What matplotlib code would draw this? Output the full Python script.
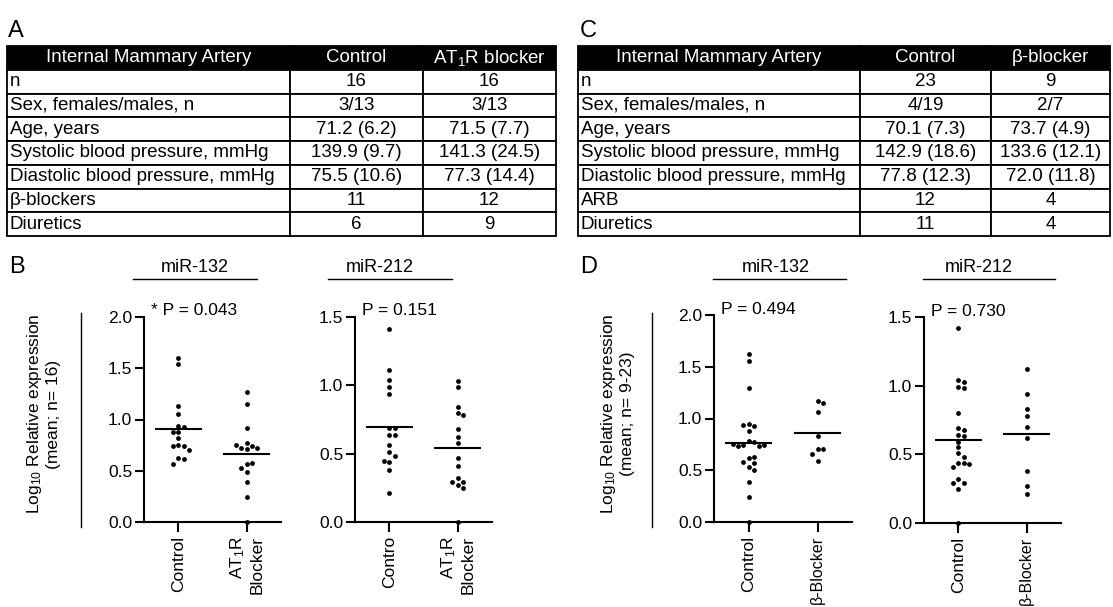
import matplotlib
matplotlib.use('Agg')
import matplotlib.pyplot as plt
from matplotlib.lines import Line2D

plt.rcParams['font.family'] = ['Liberation Sans', 'DejaVu Sans']
plt.rcParams['mathtext.default'] = 'regular'

# ---- tables ----
header_a = ['Internal Mammary Artery', 'Control', 'AT$_1$R blocker']
rows_a = [['n', '16', '16'],
          ['Sex, females/males, n', '3/13', '3/13'],
          ['Age, years', '71.2 (6.2)', '71.5 (7.7)'],
          ['Systolic blood pressure, mmHg', '139.9 (9.7)', '141.3 (24.5)'],
          ['Diastolic blood pressure, mmHg', '75.5 (10.6)', '77.3 (14.4)'],
          ['β-blockers', '11', '12'],
          ['Diuretics', '6', '9']]

header_c = ['Internal Mammary Artery', 'Control', 'β-blocker']
rows_c = [['n', '23', '9'],
          ['Sex, females/males, n', '4/19', '2/7'],
          ['Age, years', '70.1 (7.3)', '73.7 (4.9)'],
          ['Systolic blood pressure, mmHg', '142.9 (18.6)', '133.6 (12.1)'],
          ['Diastolic blood pressure, mmHg', '77.8 (12.3)', '72.0 (11.8)'],
          ['ARB', '12', '4'],
          ['Diuretics', '11', '4']]

# ---- scatter data (log10 relative expression) ----
b132_control = [1.60, 1.54, 1.13, 1.05, 0.94, 0.93, 0.88, 0.88, 0.82, 0.75,
                0.74, 0.74, 0.70, 0.62, 0.61, 0.57]
b132_at1r = [1.27, 1.15, 0.92, 0.77, 0.74, 0.72, 0.71, 0.72, 0.75, 0.57,
             0.58, 0.53, 0.49, 0.39, 0.24, 0.0]
b212_control = [1.41, 1.11, 1.04, 0.99, 0.94, 0.69, 0.69, 0.64, 0.64, 0.56,
                0.51, 0.48, 0.44, 0.45, 0.38, 0.21]
b212_at1r = [1.03, 0.99, 0.84, 0.80, 0.78, 0.68, 0.62, 0.58, 0.47, 0.41,
             0.32, 0.29, 0.27, 0.25, 0.29, 0.0]
d132_control = [1.62, 1.56, 1.29, 0.95, 0.93, 0.94, 0.88, 0.78, 0.77, 0.74,
                0.73, 0.73, 0.74, 0.75, 0.62, 0.63, 0.57, 0.58, 0.53, 0.50,
                0.39, 0.24, 0.0]
d132_bb = [1.17, 1.15, 1.06, 0.83, 0.71, 0.71, 0.66, 0.59]
d212_control = [1.42, 1.04, 1.03, 0.99, 0.98, 0.80, 0.69, 0.68, 0.64, 0.63,
                0.59, 0.55, 0.51, 0.48, 0.44, 0.44, 0.41, 0.32, 0.29, 0.29,
                0.25, 0.43, 0.0]
d212_bb = [1.12, 0.94, 0.83, 0.78, 0.70, 0.62, 0.38, 0.27, 0.21]

at1r_tick = 'AT$_1$R\nBlocker'
panels = [
    # label, p text, y max, groups, tick labels
    ('miR-132', '* P = 0.043', 2.0, [b132_control, b132_at1r], ['Control', at1r_tick]),
    ('miR-212', 'P = 0.151', 1.5, [b212_control, b212_at1r], ['Contro', at1r_tick]),
    ('miR-132', 'P = 0.494', 2.0, [d132_control, d132_bb], ['Control', 'β-Blocker']),
    ('miR-212', 'P = 0.730', 1.5, [d212_control, d212_bb], ['Control', 'β-Blocker']),
]

W, H = 1113, 607
fig = plt.figure(figsize=(W / 100, H / 100), dpi=100)


def px_axes(x0, y0, x1, y1):
    return fig.add_axes([x0 / W, 1 - y1 / H, (x1 - x0) / W, (y1 - y0) / H])


def draw_table(box, header, rows, widths):
    ax = px_axes(*box)
    ax.axis('off')
    tbl = ax.table(cellText=rows, colLabels=header, colWidths=widths,
                   bbox=[0, 0, 1, 1], cellLoc='center')
    tbl.auto_set_font_size(False)
    tbl.set_fontsize(13.5)
    for (r, c), cell in tbl.get_celld().items():
        cell.set_linewidth(1.3)
        cell.PAD = 0.01
        if r == 0:
            cell.set_facecolor('black')
            cell.get_text().set_color('white')
        elif c == 0:
            cell._loc = 'left'
            cell.get_text().set_horizontalalignment('left')


draw_table((7, 46, 556, 236), header_a, rows_a, [283, 133, 133])
draw_table((578, 46, 1110, 236), header_c, rows_c, [282, 131, 119])


def swarm(vals, dx, ypx):
    # simple beeswarm: shift points sideways until they do not overlap
    placed = []
    xs = []
    for v in vals:
        k = 0
        while True:
            off = ((k + 1) // 2) * dx * (1 if k % 2 else -1) if k else 0.0
            ok = all(((off - px) / dx) ** 2 + ((v - py) * ypx / 5.2) ** 2 >= 1.0
                     for px, py in placed)
            if ok:
                break
            k += 1
        placed.append((off, v))
        xs.append(off)
    return xs


ax_boxes = [(144, 317, 281, 522), (355, 317, 492, 522),
            (714, 315, 852, 522), (924, 317, 1061, 523)]

for (name, ptxt, ymax, groups, ticks), box in zip(panels, ax_boxes):
    ax = px_axes(*box)
    ypx = (box[3] - box[1]) / ymax
    for i, g in enumerate(groups):
        xs = swarm(g, 0.077, ypx)
        ax.scatter([i + x for x in xs], g, s=12, color='black', zorder=3,
                   clip_on=False, linewidths=0)
        m = sum(g) / len(g)
        ax.hlines(m, i - 0.34, i + 0.34, color='black', lw=1.5)
    ax.set_xlim(-0.5, 1.5)
    ax.set_ylim(0, ymax)
    ax.set_yticks([0.5 * k for k in range(int(ymax / 0.5) + 1)])
    ax.set_yticklabels(['%.1f' % (0.5 * k) for k in range(int(ymax / 0.5) + 1)])
    ax.set_xticks([0, 1])
    ax.set_xticklabels(ticks, rotation=90, ha='center', va='top',
                       multialignment='right')
    for s in ['top', 'right']:
        ax.spines[s].set_visible(False)
    for s in ['left', 'bottom']:
        ax.spines[s].set_linewidth(1.5)
    ax.tick_params(axis='y', length=6.5, width=1.5, labelsize=12.5, pad=2)
    ax.tick_params(axis='x', length=7, width=1.5, labelsize=12.5, pad=3)
    for lab in ax.get_xticklabels():
        if lab.get_text().startswith('β'):
            # keep the long label inside the figure
            lab.set_fontsize(11.5)
    ax.annotate(ptxt, xy=(0, 1), xycoords='axes fraction', xytext=(7, 6),
                textcoords='offset pixels', va='center', ha='left', fontsize=12.5)
    ax.patch.set_visible(False)

# titles with underlines
titles = [(195, 133, 257, 'miR-132'), (380, 328, 452, 'miR-212'),
          (776, 713, 846, 'miR-132'), (979, 923, 1055, 'miR-212')]
for cx, lx0, lx1, t in titles:
    fig.text(cx / W, 1 - 268 / H, t, ha='center', va='center', fontsize=13)
    fig.add_artist(Line2D([lx0 / W, lx1 / W], [1 - 279 / H, 1 - 279 / H],
                          color='black', lw=1))

# y labels with vertical rule
for cx, lx, n in [(43, 81, '16'), (617, 652, '9-23')]:
    fig.text(cx / W, 1 - 414 / H, 'Log$_{10}$ Relative expression\n(mean; n= %s)' % n,
             rotation=90, ha='center', va='center', multialignment='center',
             fontsize=12.5)
    fig.add_artist(Line2D([lx / W, lx / W], [1 - 313 / H, 1 - 527 / H],
                          color='black', lw=1))

# panel letters
for x, y, t in [(8, 37, 'A'), (580, 37, 'C'), (9, 273, 'B'), (580, 273, 'D')]:
    fig.text(x / W, 1 - y / H, t, fontsize=17, va='baseline', ha='left')

fig.savefig('out.png', dpi=100)
